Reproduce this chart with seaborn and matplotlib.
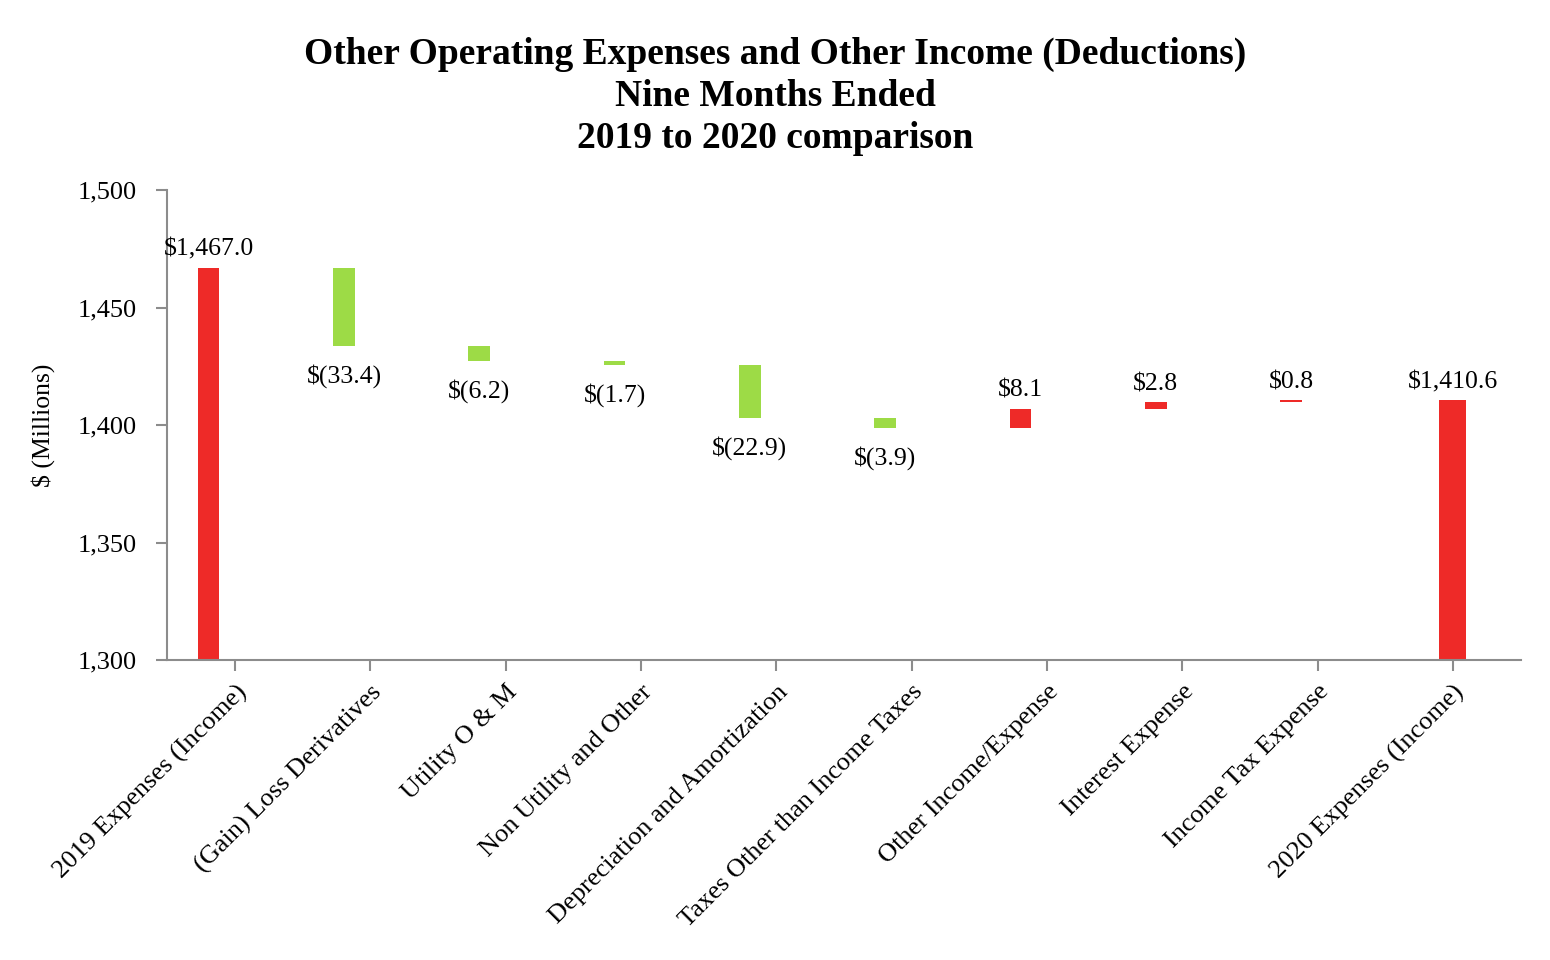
import numpy as np
import pandas as pd
import matplotlib
matplotlib.use("Agg")
import matplotlib.pyplot as plt
import seaborn as sns

# ---- data ----
categories = ["2019 Expenses (Income)", "(Gain) Loss Derivatives", "Utility O & M",
              "Non Utility and Other", "Depreciation and Amortization",
              "Taxes Other than Income Taxes", "Other Income/Expense",
              "Interest Expense", "Income Tax Expense", "2020 Expenses (Income)"]
start_total = 1467.0
changes = [-33.4, -6.2, -1.7, -22.9, -3.9, 8.1, 2.8, 0.8]
end_total = 1410.6
value_labels = ["$1,467.0", "$(33.4)", "$(6.2)", "$(1.7)", "$(22.9)", "$(3.9)",
                "$8.1", "$2.8", "$0.8", "$1,410.6"]
y_ticks = [1300, 1350, 1400, 1450, 1500]

RED = "#EE2A28"
GREEN = "#9DDB46"
GRAY = "#8C8C8C"

sns.set_theme(style="white")
plt.rcParams["font.family"] = ["Liberation Serif", "DejaVu Serif"]
plt.rcParams["text.color"] = "black"
plt.rcParams["axes.labelcolor"] = "black"
plt.rcParams["xtick.color"] = "black"
plt.rcParams["ytick.color"] = "black"

# build waterfall table
rows = []
running = start_total
rows.append(dict(pos=0, bottom=0.0, height=start_total, kind="start", top=start_total))
for i, c in enumerate(changes, start=1):
    new = running + c
    rows.append(dict(pos=i, bottom=min(running, new), height=abs(c),
                     kind="up" if c > 0 else "down", top=max(running, new)))
    running = new
rows.append(dict(pos=len(categories) - 1, bottom=0.0, height=end_total, kind="end", top=end_total))
df = pd.DataFrame(rows)
df["x"] = np.where(df["kind"] == "end", df["pos"], df["pos"] - 0.195)

fig = plt.figure(figsize=(15.5, 9.6), dpi=100)
ax = fig.add_axes([0.108, 0.3125, 0.873, 0.4895])

red_df = df[df["kind"].isin(["start", "up"])].reset_index(drop=True)
green_df = df[df["kind"] == "down"].reset_index(drop=True)
end_df = df[df["kind"] == "end"].reset_index(drop=True)

sns.barplot(data=red_df, x="x", y="height", native_scale=True, width=0.16,
            color=RED, saturation=1, bottom=red_df["bottom"].values,
            errorbar=None, ax=ax, linewidth=0)
sns.barplot(data=green_df, x="x", y="height", native_scale=True, width=0.16,
            color=GREEN, saturation=1, bottom=green_df["bottom"].values,
            errorbar=None, ax=ax, linewidth=0)
sns.barplot(data=end_df, x="x", y="height", native_scale=True, width=0.2,
            color=RED, saturation=1, bottom=end_df["bottom"].values,
            errorbar=None, ax=ax, linewidth=0)

# value labels
for _, r in df.iterrows():
    lab = value_labels[int(r["pos"])]
    if r["kind"] == "down":
        ax.annotate(lab, (r["x"], r["bottom"]), xytext=(0, -13), textcoords="offset points",
                    ha="center", va="top", fontsize=18.5, color="black")
    else:
        ax.annotate(lab, (r["x"], r["top"]), xytext=(0, 5), textcoords="offset points",
                    ha="center", va="bottom", fontsize=18.5, color="black")

ax.set_xlim(-0.5, len(categories) - 0.5)
ax.set_ylim(1300, 1500)
ax.set_xticks(range(len(categories)))
ax.set_xticklabels(categories, rotation=45, ha="right", rotation_mode="anchor", fontsize=19)
ax.set_yticks(y_ticks)
ax.set_yticklabels([f"{v:,}" for v in y_ticks], fontsize=19)
ax.set_xlabel("")
ax.set_ylabel("$ (Millions)", fontsize=18.5, labelpad=16)

for s in ["top", "right"]:
    ax.spines[s].set_visible(False)
for s in ["left", "bottom"]:
    ax.spines[s].set_color(GRAY)
    ax.spines[s].set_linewidth(1.5)
ax.tick_params(axis="both", which="both", direction="out", length=8, width=1.5,
               color=GRAY, left=True, bottom=True)
ax.tick_params(axis="y", pad=14)
ax.tick_params(axis="x", pad=7)

fig.text(0.5, 0.962, "Other Operating Expenses and Other Income (Deductions)\nNine Months Ended\n2019 to 2020 comparison",
         ha="center", va="top", fontsize=27, fontweight="bold", linespacing=1.27, color="black")

fig.savefig("out.png", dpi=100)
